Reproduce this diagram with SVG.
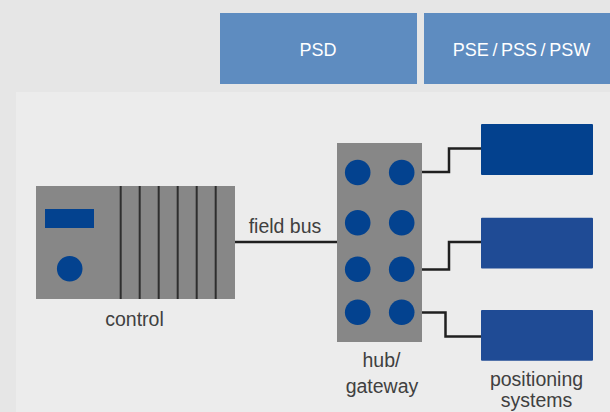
<svg xmlns="http://www.w3.org/2000/svg" width="610" height="412" viewBox="0 0 610 412">
  <style>
    .hdr { fill: #5e8cc0; }
    .hdrtxt { font-family: "Liberation Sans", Arial, sans-serif; font-size: 18px; fill: #ffffff; text-anchor: middle; }
    .lbl { font-family: "Liberation Sans", Arial, sans-serif; font-size: 19.5px; fill: #404040; text-anchor: middle; }
    .dev { fill: #878787; }
    .dot { fill: #03428f; }
    .slot { stroke: #2e2e2e; stroke-width: 2; }
    .wire { fill: none; stroke: #1f1f1f; stroke-width: 2.5; }
    .pos1 { fill: #03418e; }
    .pos { fill: #1f4b95; }
  </style>
  <rect x="0" y="0" width="610" height="412" fill="#e6e6e6"/>
  <rect x="16" y="92" width="594" height="320" fill="#ececec"/>

  <g id="header-psd">
    <rect class="hdr" x="220" y="13" width="197" height="71"/>
    <text class="hdrtxt" x="318" y="56">PSD</text>
  </g>
  <g id="header-pse">
    <rect class="hdr" x="424" y="13" width="190" height="71"/>
    <text class="hdrtxt" x="521.5" y="56">PSE&#8201;/&#8201;PSS&#8201;/&#8201;PSW</text>
  </g>

  <g id="connectors">
    <line class="wire" x1="235" y1="242" x2="337" y2="242"/>
    <polyline class="wire" points="403,172 449,172 449,148.5 481,148.5"/>
    <polyline class="wire" points="403,269.5 449,269.5 449,242 481,242"/>
    <polyline class="wire" points="400,312.5 445.5,312.5 445.5,336.5 481,336.5"/>
  </g>

  <g id="control">
    <rect class="dev" x="36" y="186" width="199" height="113"/>
    <rect class="dot" x="45" y="209" width="49" height="19"/>
    <circle class="dot" cx="69.7" cy="268.7" r="12.8"/>
    <line class="slot" x1="120.7" y1="186" x2="120.7" y2="299"/>
    <line class="slot" x1="139.7" y1="186" x2="139.7" y2="299"/>
    <line class="slot" x1="158.7" y1="186" x2="158.7" y2="299"/>
    <line class="slot" x1="177.7" y1="186" x2="177.7" y2="299"/>
    <line class="slot" x1="196.7" y1="186" x2="196.7" y2="299"/>
    <line class="slot" x1="215.7" y1="186" x2="215.7" y2="299"/>
    <text class="lbl" x="134.5" y="326">control</text>
  </g>

  <g id="fieldbus-label">
    <text class="lbl" x="285" y="233">field bus</text>
  </g>

  <g id="hub">
    <rect class="dev" x="337" y="143" width="85" height="199"/>
    <circle class="dot" cx="357.7" cy="172.5" r="12.8"/>
    <circle class="dot" cx="401.7" cy="172.5" r="12.8"/>
    <circle class="dot" cx="357.7" cy="222.7" r="12.8"/>
    <circle class="dot" cx="401.7" cy="222.7" r="12.8"/>
    <circle class="dot" cx="357.7" cy="269.3" r="12.8"/>
    <circle class="dot" cx="401.7" cy="269.3" r="12.8"/>
    <circle class="dot" cx="357.7" cy="312.3" r="12.8"/>
    <circle class="dot" cx="401.7" cy="312.3" r="12.8"/>
    <text class="lbl" x="381.5" y="367">hub/</text>
    <text class="lbl" x="382" y="393">gateway</text>
  </g>

  <g id="positioning-1">
    <rect class="pos1" x="481" y="124" width="112" height="51" rx="1"/>
  </g>
  <g id="positioning-2">
    <rect class="pos" x="481" y="217.7" width="112" height="50.7" rx="1"/>
  </g>
  <g id="positioning-3">
    <rect class="pos" x="481" y="310" width="112" height="50.7" rx="1"/>
    <text class="lbl" x="536.5" y="385.5">positioning</text>
    <text class="lbl" x="536.5" y="407">systems</text>
  </g>
</svg>
